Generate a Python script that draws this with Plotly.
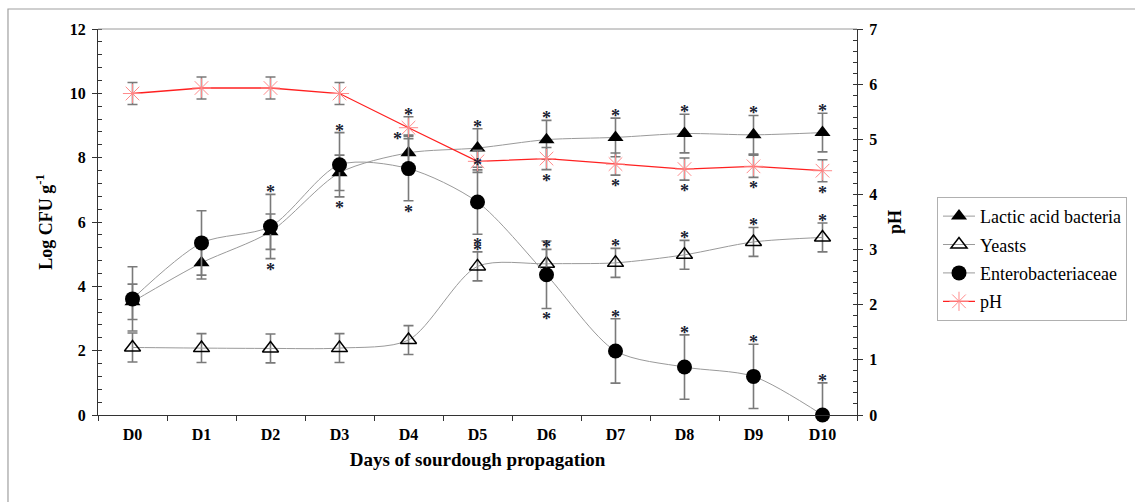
import plotly.graph_objects as go

days = ["D0", "D1", "D2", "D3", "D4", "D5", "D6", "D7", "D8", "D9", "D10"]

lab = [3.52, 4.73, 5.70, 7.53, 8.15, 8.30, 8.56, 8.63, 8.75, 8.71, 8.78]
lab_err = [0.55, 0.50, 0.55, 0.55, 0.55, 0.60, 0.60, 0.60, 0.60, 0.60, 0.60]

yeasts = [2.10, 2.08, 2.07, 2.08, 2.33, 4.62, 4.70, 4.73, 4.98, 5.38, 5.52]
yeasts_err = [0.45, 0.45, 0.45, 0.45, 0.45, 0.45, 0.45, 0.45, 0.45, 0.45, 0.45]

entero = [3.61, 5.35, 5.86, 7.78, 7.66, 6.62, 4.36, 1.99, 1.49, 1.20, 0.00]
entero_err = [1.00, 1.00, 1.00, 1.00, 1.00, 1.00, 1.05, 1.00, 1.00, 1.00, 1.00]
entero_err_minus = [1.00, 1.00, 1.00, 1.00, 1.00, 1.00, 1.05, 1.00, 1.00, 1.00, 0.00]

ph = [5.83, 5.93, 5.93, 5.83, 5.21, 4.60, 4.65, 4.55, 4.46, 4.51, 4.43]
ph_err = [0.20, 0.20, 0.20, 0.20, 0.20, 0.20, 0.20, 0.20, 0.20, 0.20, 0.20]

# significance asterisks: (series, day index, side)
stars = [
    ("lab", 5, "above"), ("lab", 6, "above"), ("lab", 7, "above"), ("lab", 8, "above"),
    ("lab", 9, "above"), ("lab", 10, "above"), ("lab", 4, "left"),
    ("ph", 4, "above"), ("ph", 5, "on"),
    ("ph", 6, "below"), ("ph", 7, "below"), ("ph", 8, "below"), ("ph", 9, "below"), ("ph", 10, "below"),
    ("entero", 2, "above"), ("entero", 3, "above"), ("entero", 7, "above"), ("entero", 8, "above"),
    ("entero", 9, "above"), ("entero", 10, "above"),
    ("entero", 2, "below"), ("entero", 3, "below"), ("entero", 4, "below"), ("entero", 5, "below"),
    ("entero", 6, "below"),
    ("yeasts", 5, "above"), ("yeasts", 6, "above"), ("yeasts", 7, "above"), ("yeasts", 8, "above"),
    ("yeasts", 9, "above"), ("yeasts", 10, "above"),
]

SERIF = "Liberation Serif"
GRAY_LINE = "#9a9a9a"
ERR = dict(color="#7a7a7a", thickness=1.6, width=5)

fig = go.Figure()

fig.add_trace(go.Scatter(
    x=days, y=lab, name="Lactic acid bacteria", mode="lines+markers", legendgroup="a",
    line=dict(color=GRAY_LINE, width=1, shape="spline", smoothing=0.8),
    marker=dict(symbol="triangle-up", size=14, color="black"),
    error_y=dict(type="data", array=lab_err, **ERR), cliponaxis=False,
))
fig.add_trace(go.Scatter(
    x=days, y=yeasts, name="Yeasts", mode="lines+markers", legendgroup="b",
    line=dict(color=GRAY_LINE, width=1, shape="spline", smoothing=0.8),
    marker=dict(symbol="triangle-up-open", size=14, color="black", line=dict(width=1.5, color="black")),
    error_y=dict(type="data", array=yeasts_err, **ERR), cliponaxis=False,
))
fig.add_trace(go.Scatter(
    x=days, y=entero, name="Enterobacteriaceae", mode="lines+markers", legendgroup="c",
    line=dict(color=GRAY_LINE, width=1, shape="spline", smoothing=0.8),
    marker=dict(symbol="circle", size=15, color="black"),
    error_y=dict(type="data", array=entero_err, arrayminus=entero_err_minus, **ERR), cliponaxis=False,
))
fig.add_trace(go.Scatter(
    x=days, y=ph, name="pH", mode="lines+markers", yaxis="y2", legendgroup="d",
    line=dict(color="#ff2020", width=1.3),
    marker=dict(symbol="asterisk-open", size=16, color="#ff8a8a", line=dict(width=1, color="#ff8a8a")),
    error_y=dict(type="data", array=ph_err, **ERR), cliponaxis=False,
))

series = {
    "lab": (lab, lab_err, lab_err, "y"),
    "yeasts": (yeasts, yeasts_err, yeasts_err, "y"),
    "entero": (entero, entero_err, entero_err_minus, "y"),
    "ph": (ph, ph_err, ph_err, "y2"),
}
STAR_SIZE = 18
GLYPH = -0.22 * STAR_SIZE  # asterisk glyph sits high inside its text box
annotations = []
for name, i, side in stars:
    vals, ep, em, yref = series[name]
    xshift = 0
    if side == "above":
        y = vals[i] + ep[i]
        yshift = 6 + GLYPH
    elif side == "below":
        y = vals[i] - em[i]
        yshift = -7 + GLYPH
    elif side == "left":
        y = vals[i] + 0.55
        yshift = GLYPH
        xshift = -11
    else:
        y = vals[i]
        yshift = GLYPH
    annotations.append(dict(
        x=days[i], y=y, xref="x", yref=yref, text="<b>*</b>", showarrow=False,
        yanchor="middle", xshift=xshift, yshift=yshift,
        font=dict(family=SERIF, size=STAR_SIZE, color="#1a1d33"),
    ))

fig.update_layout(
    width=1135, height=502,
    margin=dict(l=98, r=278, t=29, b=87, autoexpand=False),
    paper_bgcolor="white", plot_bgcolor="white",
    font=dict(family=SERIF, color="black"),
    showlegend=True,
    legend=dict(
        x=1.1054, y=0.565, xanchor="left", yanchor="top",
        bordercolor="#b0b0b0", borderwidth=1,
        font=dict(family=SERIF, size=18, color="black"),
        tracegroupgap=2, itemwidth=32,
    ),
    xaxis=dict(
        type="category", range=[-0.5, 10.5],
        showline=True, linecolor="#333", linewidth=1.2,
        ticks="outside", tickson="boundaries", ticklen=5, tickcolor="#333",
        tickfont=dict(family=SERIF, size=16, color="black", weight="bold"),
        ticklabelstandoff=5,
        title=dict(text="<b>Days of sourdough propagation</b>", font=dict(family=SERIF, size=19), standoff=10),
        showgrid=False, zeroline=False,
    ),
    yaxis=dict(
        range=[0, 12], dtick=2,
        showline=True, linecolor="#333", linewidth=1.2,
        ticks="outside", ticklen=5, tickcolor="#333",
        minor=dict(dtick=0.4, ticks="inside", ticklen=4, tickcolor="#333"),
        tickfont=dict(family=SERIF, size=16, color="black", weight="bold"),
        ticklabelstandoff=3,
        title=dict(text="<b>Log CFU g<sup>-1</sup></b>", font=dict(family=SERIF, size=18), standoff=12),
        showgrid=False, zeroline=False,
    ),
    yaxis2=dict(
        range=[0, 7], dtick=1, overlaying="y", side="right",
        showline=True, linecolor="#333", linewidth=1.2,
        ticks="outside", ticklen=5, tickcolor="#333",
        minor=dict(dtick=0.2, ticks="inside", ticklen=4, tickcolor="#333"),
        tickfont=dict(family=SERIF, size=16, color="black", weight="bold"),
        ticklabelstandoff=3,
        title=dict(text="<b>pH</b>", font=dict(family=SERIF, size=18), standoff=12),
        showgrid=False, zeroline=False,
    ),
    annotations=annotations,
    shapes=[
        dict(type="line", xref="paper", yref="paper", x0=0, x1=1, y0=1, y1=1,
             line=dict(color="#9a9a9a", width=1)),
        dict(type="rect", xref="paper", yref="paper", x0=-0.1186, x1=1.40, y0=1.0518, y1=-0.25,
             line=dict(color="#a0a0a0", width=1.2), layer="below"),
    ],
)

fig.write_html("out.html")
